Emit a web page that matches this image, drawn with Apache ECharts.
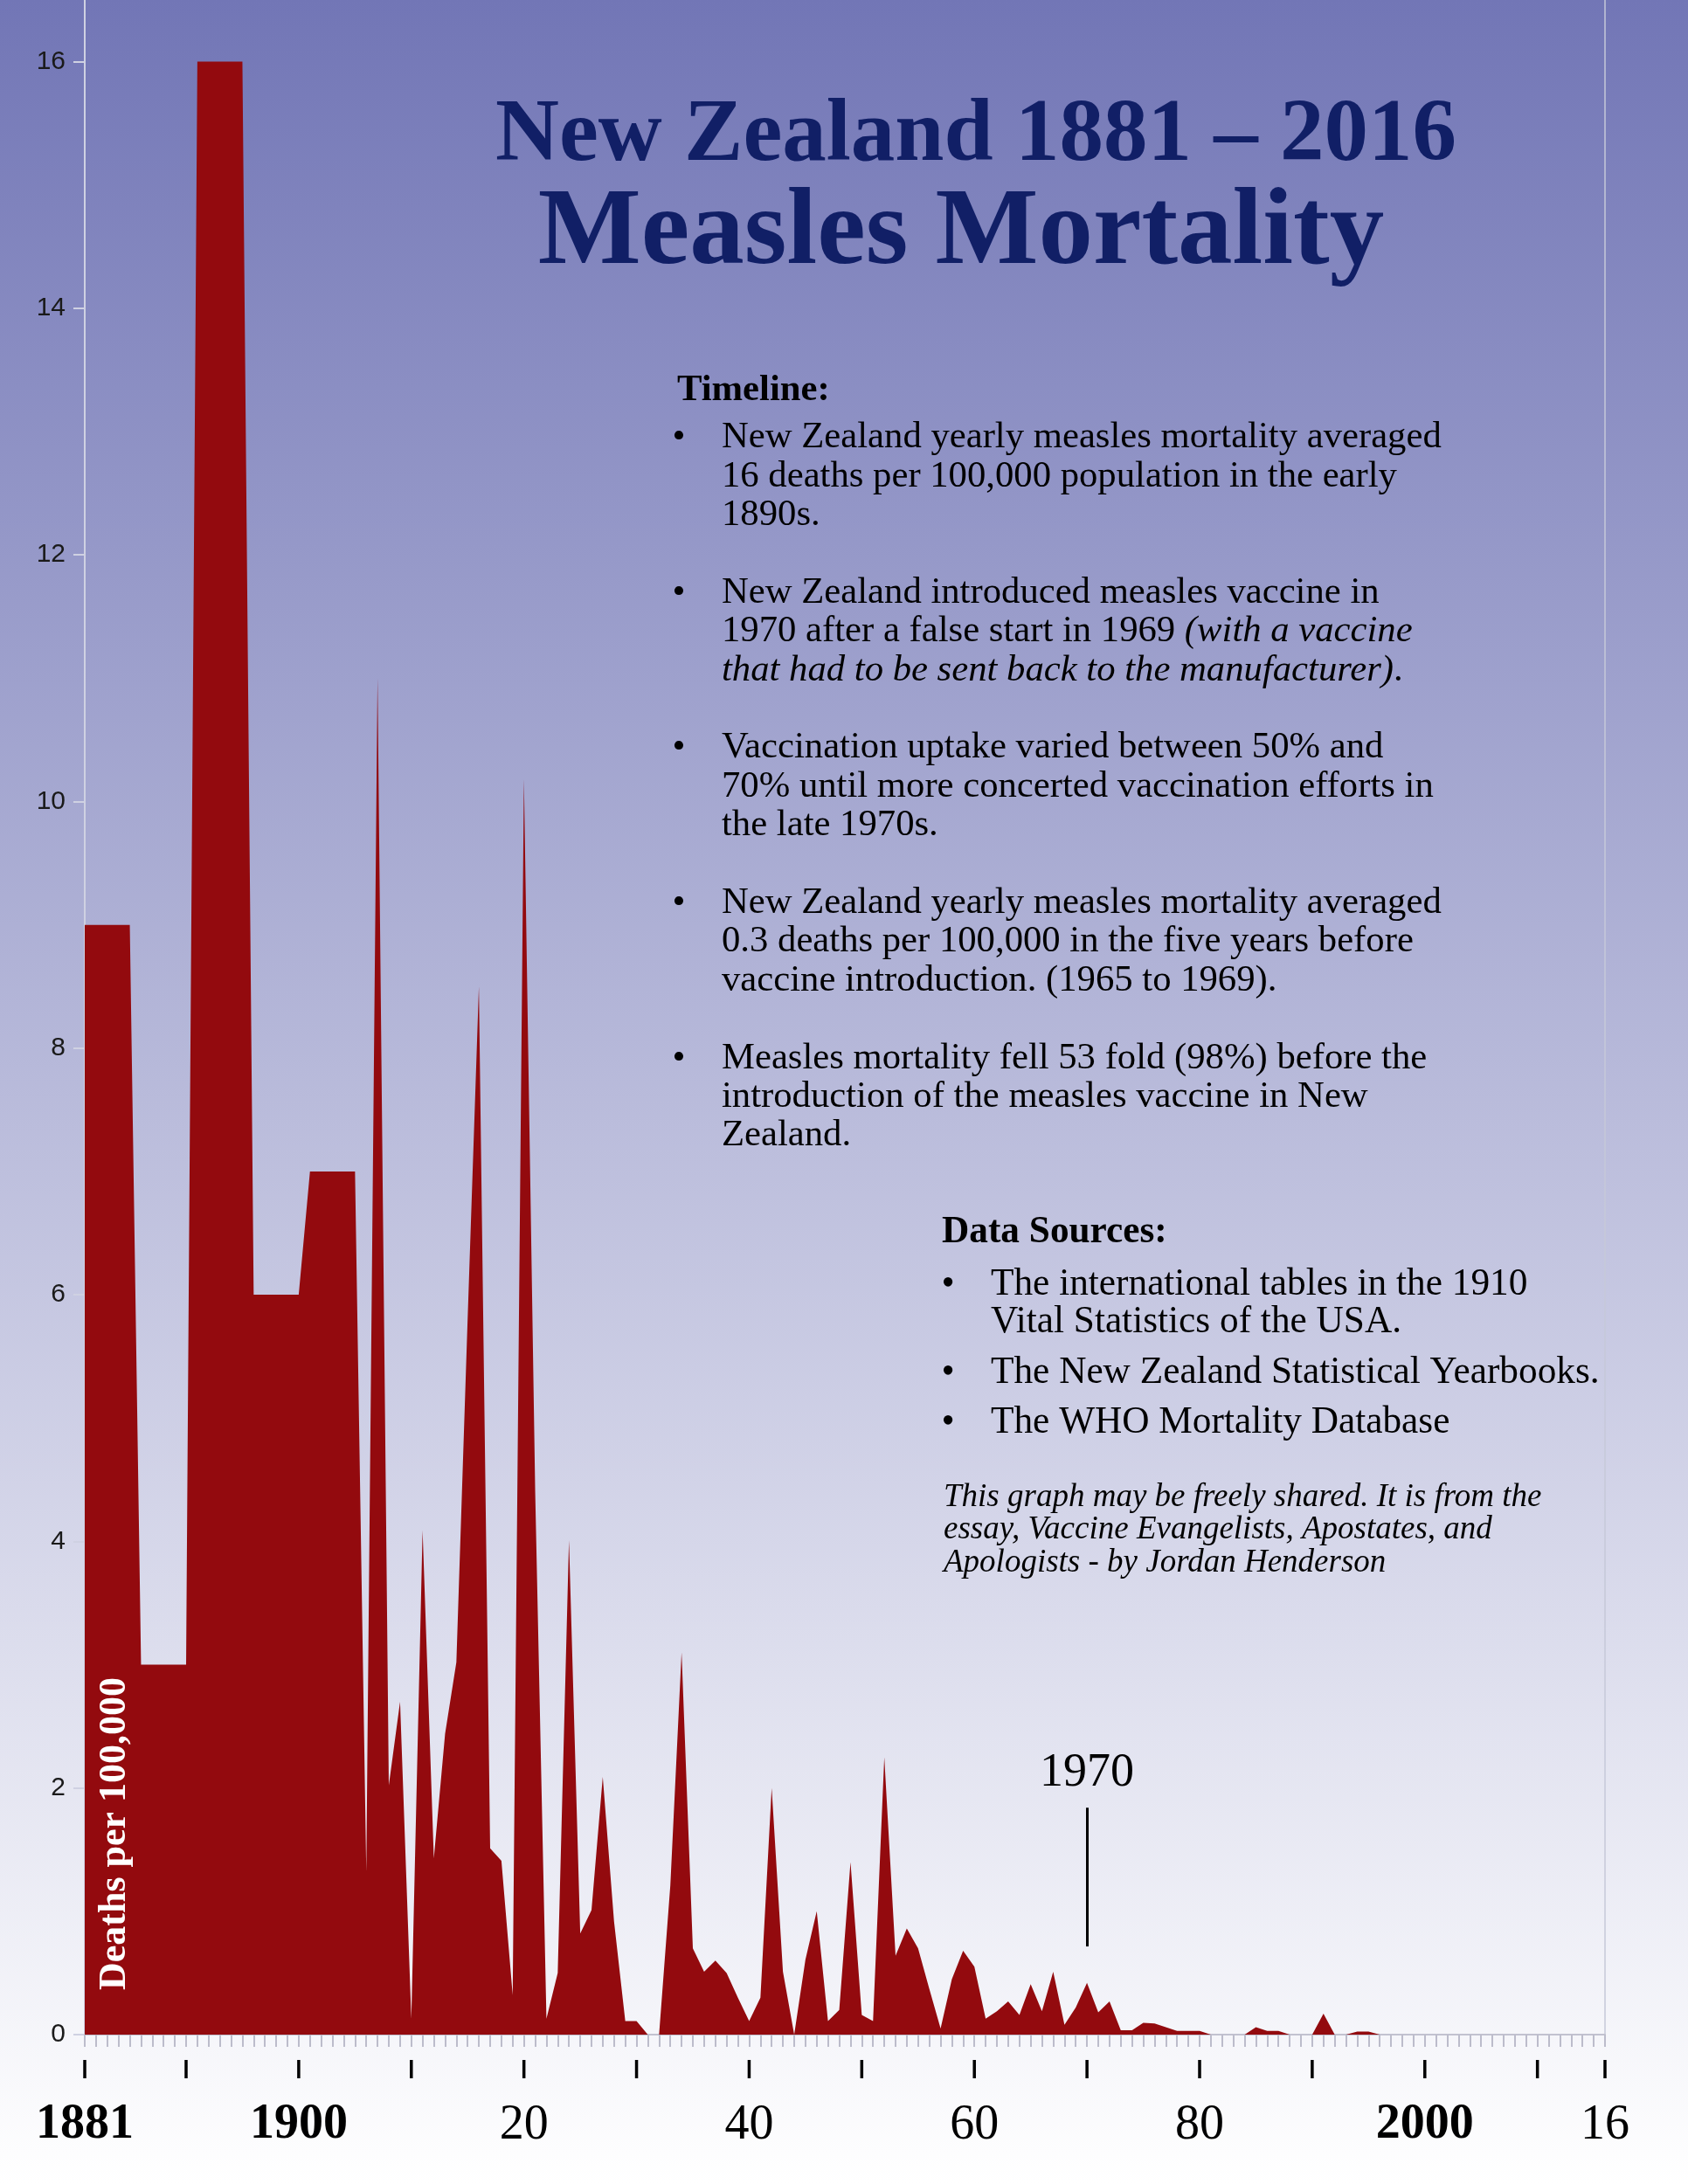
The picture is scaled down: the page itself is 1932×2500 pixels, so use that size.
<!DOCTYPE html>
<html>
<head>
<meta charset="utf-8">
<title>New Zealand Measles Mortality 1881 - 2016</title>
<script src="https://cdn.jsdelivr.net/npm/echarts@6.0.0/dist/echarts.min.js"></script>
<style>
  html, body { margin: 0; padding: 0; }
  body { background: linear-gradient(to bottom, #7276b6 0%, #ffffff 100%); }
  #main { width: 1932px; height: 2500px; }
</style>
</head>
<body>
<div id="main"></div>
<script>
// yearly deaths per 100,000
const startYear = 1881
const endYear = 2016
const deaths = [
  9, 9, 9, 9, 9,            // 1881-1885
  3, 3, 3, 3, 3,            // 1886-1890
  16, 16, 16, 16, 16,       // 1891-1895
  6, 6, 6, 6, 6,            // 1896-1900
  7, 7, 7, 7, 7,            // 1901-1905
  1.33, 11.0, 2.02, 2.7, 0.13, 4.09, 1.43, 2.44, 3.02, 5.8,      // 1906-1915
  8.5, 1.51, 1.41, 0.32, 10.18, 4.4, 0.13, 0.5, 4.01, 0.82,      // 1916-1925
  1.01, 2.09, 0.92, 0.11, 0.11, 0, 0, 1.21, 3.1, 0.7,            // 1926-1935
  0.51, 0.6, 0.5, 0.3, 0.11, 0.3, 2.0, 0.51, 0, 0.61,            // 1936-1945
  1.0, 0.11, 0.2, 1.4, 0.16, 0.11, 2.25, 0.64, 0.86, 0.7,        // 1946-1955
  0.37, 0.05, 0.45, 0.68, 0.55, 0.13, 0.19, 0.27, 0.16, 0.41,    // 1956-1965
  0.19, 0.51, 0.08, 0.22, 0.42, 0.18, 0.27, 0.035, 0.035, 0.095, // 1966-1975
  0.09, 0.06, 0.03, 0.03, 0.03, 0, 0, 0, 0, 0.06,                // 1976-1985
  0.03, 0.03, 0, 0, 0, 0.17, 0, 0, 0.025, 0.025,                 // 1986-1995
  0, 0, 0, 0, 0, 0, 0, 0, 0, 0,                                  // 1996-2005
  0, 0, 0, 0, 0, 0, 0, 0, 0, 0, 0                                // 2006-2016
]
const yTicks = [0, 2, 4, 6, 8, 10, 12, 14, 16]
const majorTickYears = [1881, 1890, 1900, 1910, 1920, 1930, 1940, 1950, 1960, 1970, 1980, 1990, 2000, 2010, 2016]
const labelYears = [1881, 1900, 1920, 1940, 1960, 1980, 2000, 2016]
const boldYears = [1881, 1900, 2000]
const vaccineYear = 1970
const vaccineMarker = [0.715, 1.84]

const timeline = [
  ['New Zealand yearly measles mortality averaged', '16 deaths per 100,000 population in the early', '1890s.'],
  ['New Zealand introduced measles vaccine in', '1970 after a false start in 1969 {i|(with a vaccine}', '{i|that had to be sent back to the manufacturer)}.'],
  ['Vaccination uptake varied between 50% and', '70% until more concerted vaccination efforts in', 'the late 1970s.'],
  ['New Zealand yearly measles mortality averaged', '0.3 deaths per 100,000 in the five years before', 'vaccine introduction. (1965 to 1969).'],
  ['Measles mortality fell 53 fold (98%) before the', 'introduction of the measles vaccine in New', 'Zealand.']
]
const sources = [
  ['The international tables in the 1910', 'Vital Statistics of the USA.'],
  ['The New Zealand Statistical Yearbooks.'],
  ['The WHO Mortality Database']
]
const note = [
  'This graph may be freely shared. It is from the',
  'essay, Vaccine Evangelists, Apostates, and',
  'Apologists - by Jordan Henderson'
]

const serif = '"Liberation Serif", "Times New Roman", serif'
const points = deaths.map((v, i) => [startYear + i, v])
const majorMarks = majorTickYears.map(y => [y, 1])

function txt(text, x, y, opt) {
  return {
    type: 'text', x: x, y: y, z: 100, silent: true,
    style: Object.assign({
      text: text, fontFamily: serif, fontSize: 42.7, fill: '#000',
      align: 'left', verticalAlign: 'middle'
    }, opt || {})
  }
}

const graphics = []
// title
graphics.push(txt('New Zealand 1881 \u2013 2016', 1117, 157, { fontSize: 101, fontWeight: 'bold', fill: '#111f66', align: 'center' }))
graphics.push(txt('Measles Mortality', 1100, 269, { fontSize: 125, fontWeight: 'bold', fill: '#111f66', align: 'center' }))

// timeline block
graphics.push(txt('Timeline:', 775, 447, { fontWeight: 'bold' }))
let base = 514
timeline.forEach(item => {
  graphics.push(txt('\u2022', 777, base - 13, { align: 'center' }))
  item.forEach((line, k) => {
    graphics.push(txt(line, 826, base + k * 44.4 - 13, { rich: { i: { fontFamily: serif, fontSize: 42.7, fontStyle: 'italic', fill: '#000' } } }))
  })
  base += 44.4 * 4
})

// data sources block
graphics.push(txt('Data Sources:', 1078, 1411, { fontSize: 43.3, fontWeight: 'bold' }))
base = 1484
sources.forEach(item => {
  graphics.push(txt('\u2022', 1085, base - 13, { fontSize: 43.3, align: 'center' }))
  item.forEach((line, k) => {
    graphics.push(txt(line, 1134, base + k * 43 - 13, { fontSize: 43.3 }))
  })
  base += 43 * (item.length - 1) + 57.5
})
note.forEach((line, k) => {
  graphics.push(txt(line, 1080, 1725 + k * 37.5 - 11, { fontSize: 37, fontStyle: 'italic' }))
})

// rotated axis title inside the plot
graphics.push({
  type: 'text', x: 132, y: 2099, rotation: Math.PI / 2, z: 100, silent: true,
  style: { text: 'Deaths per 100,000', fontFamily: serif, fontSize: 44, fontWeight: 'bold', fill: '#ffffff', align: 'center', verticalAlign: 'middle' }
})

const chart = echarts.init(document.getElementById('main'), null, { renderer: 'canvas' })
chart.setOption({
  backgroundColor: 'transparent',
  animation: false,
  grid: [
    { left: 97, right: 95, top: 0, bottom: 171 },
    // strip below the plot holding the major year marks and the year labels
    { left: 97, right: 95, top: 2358, height: 21 }
  ],
  xAxis: [{
    gridIndex: 0, type: 'value', min: startYear, max: endYear, interval: 1, position: 'bottom',
    axisLine: { show: true, onZero: false, lineStyle: { color: '#c2c2d0', width: 2 } },
    axisTick: { show: true, length: 14, lineStyle: { color: '#bcbccb', width: 2 } },
    axisLabel: { show: false },
    splitLine: { show: false }
  }, {
    gridIndex: 1, type: 'value', min: startYear, max: endYear, position: 'bottom',
    axisLine: { show: false, onZero: false },
    axisTick: { show: false },
    axisLabel: {
      show: true, customValues: labelYears, margin: 26,
      formatter: v => {
        const s = boldYears.includes(v) ? String(v) : String(v).slice(2)
        return boldYears.includes(v) ? '{b|' + s + '}' : '{n|' + s + '}'
      },
      rich: {
        b: { fontFamily: serif, fontSize: 56, fontWeight: 'bold', color: '#000' },
        n: { fontFamily: serif, fontSize: 56, color: '#000' }
      }
    },
    splitLine: { show: false }
  }],
  yAxis: [{
    gridIndex: 0, type: 'value', min: 0, max: 16.5,
    axisLine: { show: true, onZero: false, lineStyle: { color: '#cfd1e2', width: 2 } },
    axisTick: { show: true, customValues: yTicks, length: 13, lineStyle: { color: '#cfd1e2', width: 2 } },
    axisLabel: { customValues: yTicks, margin: 22, fontFamily: '"Liberation Sans", Arial, sans-serif', fontSize: 30, color: '#1a1a1a' },
    splitLine: { show: false }
  }, {
    gridIndex: 0, type: 'value', min: 0, max: 16.5, position: 'right',
    axisLine: { show: true, onZero: false, lineStyle: { color: '#c6c8d8', width: 1.5 } },
    axisTick: { show: false },
    axisLabel: { show: false },
    splitLine: { show: false }
  }, {
    gridIndex: 1, type: 'value', min: 0, max: 1, show: false
  }],
  series: [{
    type: 'line',
    data: points,
    xAxisIndex: 0,
    yAxisIndex: 0,
    symbol: 'none',
    lineStyle: { width: 0, color: '#930a0e' },
    areaStyle: { color: '#930a0e', opacity: 1 },
    markLine: {
      silent: true,
      symbol: ['none', 'none'],
      lineStyle: { color: '#000', width: 3, type: 'solid' },
      label: { show: true, position: 'end', distance: 12, formatter: String(vaccineYear), fontFamily: serif, fontSize: 54, color: '#000' },
      data: [[{ coord: [vaccineYear, vaccineMarker[0]] }, { coord: [vaccineYear, vaccineMarker[1]] }]]
    }
  }, {
    // major year marks, drawn as thin bars in the lower strip
    type: 'bar',
    data: majorMarks,
    xAxisIndex: 1,
    yAxisIndex: 2,
    barWidth: 3.5,
    silent: true,
    itemStyle: { color: '#000' }
  }],
  graphic: graphics
})
</script>
</body>
</html>
